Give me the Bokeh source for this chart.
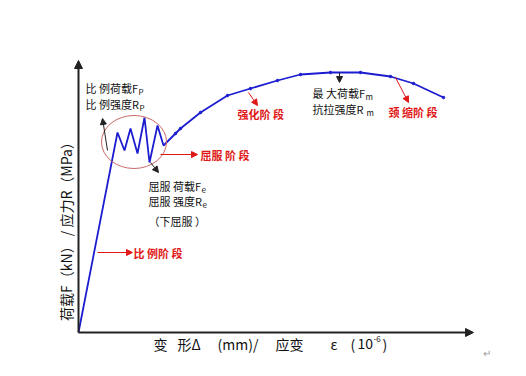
import math
from bokeh.plotting import figure
from bokeh.models import Range1d, Arrow, NormalHead
from bokeh.core.properties import value
from bokeh.embed import file_html
from bokeh.resources import INLINE

# ---- data (deformation vs load, arbitrary units) ----
elastic_x = [0, 39]
elastic_y = [0, 200]
yield_x = [39, 46, 52, 59, 66, 71, 79, 85]
yield_y = [200, 182, 204, 179, 215, 170, 207, 187]
harden_x = [85, 97, 102, 122, 149, 172, 199, 222, 252, 282, 312, 335, 365]
harden_y = [187, 199, 204, 220, 237, 244, 252, 258, 260, 260, 256, 249, 235]

curve_x = elastic_x + yield_x[1:] + harden_x[1:]
curve_y = elastic_y + yield_y[1:] + harden_y[1:]

FONT = value("Noto Sans CJK SC")
BLUE = "#1c1cd0"
RED = "#e01818"
DARK = "#222222"

p = figure(width=510, height=360, x_range=Range1d(-78, 432), y_range=Range1d(-28, 332),
           output_backend="svg", toolbar_location=None, min_border=0)
p.axis.visible = False
p.grid.visible = False
p.outline_line_color = None
p.background_fill_color = "white"

# axes as arrows
p.add_layout(Arrow(x_start=0, y_start=0, x_end=0, y_end=272, line_color=DARK, line_width=2,
                   end=NormalHead(size=8, fill_color=DARK, line_color=DARK)))
p.add_layout(Arrow(x_start=0, y_start=0, x_end=395, y_end=0, line_color=DARK, line_width=2,
                   end=NormalHead(size=8, fill_color=DARK, line_color=DARK)))

# curve
p.line(curve_x, curve_y, line_color=BLUE, line_width=1.8)
p.scatter(harden_x[1:], harden_y[1:], size=2.5, color=BLUE)

# yield circle
p.ellipse(x=[55.5], y=[190.5], width=[65], height=[53], fill_color=None,
          line_color="#c86a6a", line_width=1)

# annotation arrows
def arrow(x0, y0, x1, y1, color, lw=1, size=6):
    p.add_layout(Arrow(x_start=x0, y_start=y0, x_end=x1, y_end=y1, line_color=color, line_width=lw,
                       end=NormalHead(size=size, fill_color=color, line_color=color)))

arrow(29, 182, 24, 214, DARK)
arrow(72, 170, 80, 160, DARK)
arrow(82, 178, 119, 178, RED)
arrow(19, 80, 54, 80, RED)
arrow(170, 240, 179, 227, RED)
arrow(261, 260, 261, 250, DARK)
arrow(317, 255, 330, 230, RED)

def txt(x, y, s, color="#111111", size="11px", align="left", angle=0.0, style="normal"):
    p.text(x=[x], y=[y], text=[s], text_font=FONT, text_font_size=value(size),
           text_color=color, text_align=align, text_baseline="middle", angle=angle,
           text_font_style=style)

# black labels (main text + subscript)
txt(7, 245, "比 例荷载F")
txt(60, 241, "P", size="8px")
txt(7, 229, "比 例强度R")
txt(61, 225, "P", size="8px")
txt(70, 147, "屈服 荷载F")
txt(123, 143, "e", size="8px")
txt(70, 132, "屈服 强度R")
txt(124, 128, "e", size="8px")
txt(70, 112, "（下屈服 ）")
txt(234, 240, "最 大荷载F")
txt(287, 236, "m", size="8px")
txt(234, 224, "抗拉强度R")
txt(288, 220, "m", size="8px")

# red labels
txt(122, 178, "屈服 阶 段", color=RED, style="bold")
txt(55, 80, "比 例阶 段", color=RED, style="bold")
txt(159, 219, "强化阶 段", color=RED, style="bold")
txt(310, 221, "颈 缩阶 段", color=RED, style="bold")

# axis titles
txt(-13, 106, "荷载F（kN） /  应力R（MPa）", size="14px", align="center", angle=math.pi / 2)
xl_x = [75, 99, 139, 197, 252, 272, 279, 304]
xl_t = ["变", "形Δ", "(mm)/", "应变", "ε", "(", "10", ")"]
for xx, tt in zip(xl_x, xl_t):
    txt(xx, -11, tt, size="14px")
txt(295, -6, "-6", size="8px")
txt(404, -20, "↵", color="#999999", size="10px")

open("out.html", "w").write(file_html(p, INLINE))
